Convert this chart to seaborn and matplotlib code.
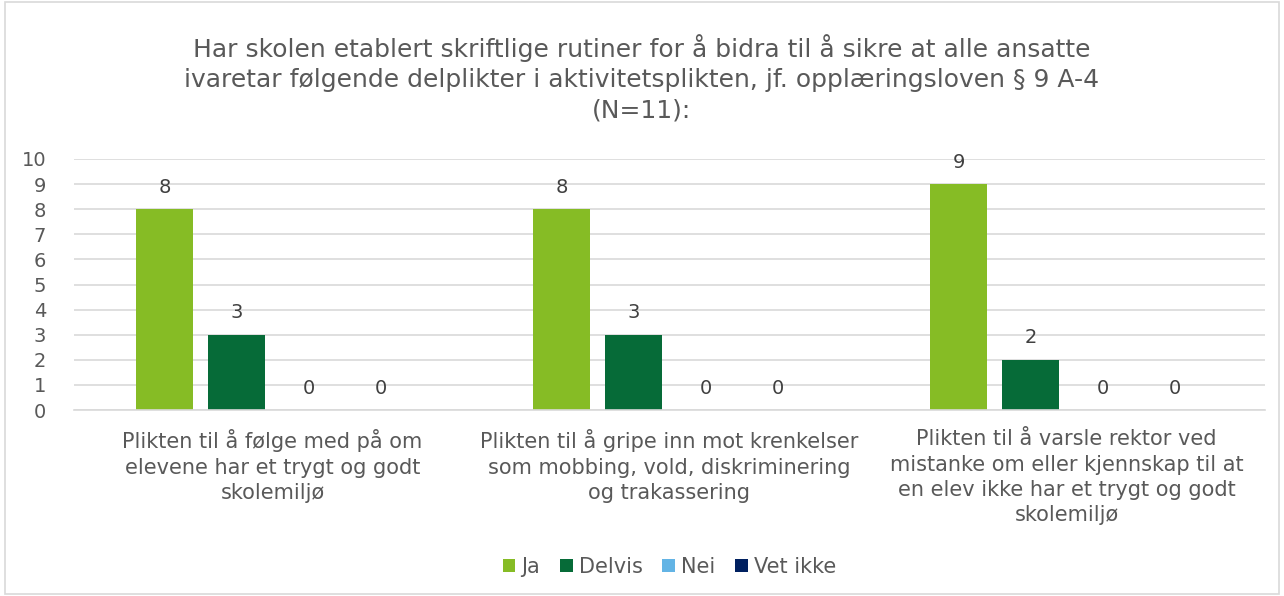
import matplotlib
matplotlib.use("Agg")
import numpy as np
import pandas as pd
import matplotlib.pyplot as plt
import seaborn as sns
from matplotlib.patches import Rectangle

# data
categories = [
    "Plikten til å følge med på om\nelevene har et trygt og godt\nskolemiljø",
    "Plikten til å gripe inn mot krenkelser\nsom mobbing, vold, diskriminering\nog trakassering",
    "Plikten til å varsle rektor ved\nmistanke om eller kjennskap til at\nen elev ikke har et trygt og godt\nskolemiljø",
]
answers = ["Ja", "Delvis", "Nei", "Vet ikke"]
ja = [8, 8, 9]
delvis = [3, 3, 2]
nei = [0, 0, 0]
vet_ikke = [0, 0, 0]
colors = ["#86BC25", "#066B38", "#63B4E5", "#002060"]
title = ("Har skolen etablert skriftlige rutiner for å bidra til å sikre at alle ansatte\n"
         "ivaretar følgende delplikter i aktivitetsplikten, jf. opplæringsloven § 9 A-4\n"
         "(N=11):")

rows = []
for ans, vals in zip(answers, [ja, delvis, nei, vet_ikke]):
    for cat, v in zip(categories, vals):
        rows.append({"kategori": cat, "svar": ans, "antall": v})
df = pd.DataFrame(rows)

sns.set_style("white")
plt.rcParams['font.family'] = ['DejaVu Sans']
txt = "#595959"

fig = plt.figure(figsize=(12.84, 5.96), dpi=100)
ax = fig.add_axes([74 / 1284, 1 - 410 / 596, 1191 / 1284, 251 / 596])

sns.barplot(data=df, x="kategori", y="antall", hue="svar", order=categories,
            hue_order=answers, palette=colors, width=0.725, gap=0.21,
            saturation=1, linewidth=0, ax=ax, legend=True)

for cont in ax.containers:
    ax.bar_label(cont, fmt="%d", padding=9, fontsize=14, color="#404040")

ax.set_ylim(0, 10)
ax.set_xlim(-0.5, 2.5)
ax.set_yticks(range(0, 11))
ax.yaxis.grid(True, color="#D9D9D9", linewidth=1.2)
ax.set_axisbelow(True)
for s in ["top", "right", "left"]:
    ax.spines[s].set_visible(False)
ax.spines["bottom"].set_color("#D9D9D9")
ax.spines["bottom"].set_linewidth(1.2)
ax.tick_params(axis="y", labelsize=14, labelcolor=txt, length=0, pad=20)
ax.tick_params(axis="x", labelsize=15, labelcolor=txt, length=0, pad=14)
for lab in ax.get_xticklabels():
    lab.set_multialignment("center")
    lab.set_linespacing(1.33)
ax.set_xlabel("")
ax.set_ylabel("")

handles, labels = ax.get_legend_handles_labels()
ax.legend(handles, labels, loc="center", bbox_to_anchor=(0.5, -0.625),
          ncol=4, frameon=False, fontsize=15, labelcolor=txt,
          handlelength=0.6, handleheight=0.6, handletextpad=0.3,
          columnspacing=0.95)

fig.text(0.5, 1 - 78 / 596, title, ha="center", va="center", fontsize=18,
         color=txt, linespacing=1.33)

fig.patches.append(Rectangle((0.004, 0.004), 0.992, 0.992, transform=fig.transFigure,
                             fill=False, edgecolor="#D9D9D9", linewidth=1.2))

fig.savefig("out.png", dpi=100)
